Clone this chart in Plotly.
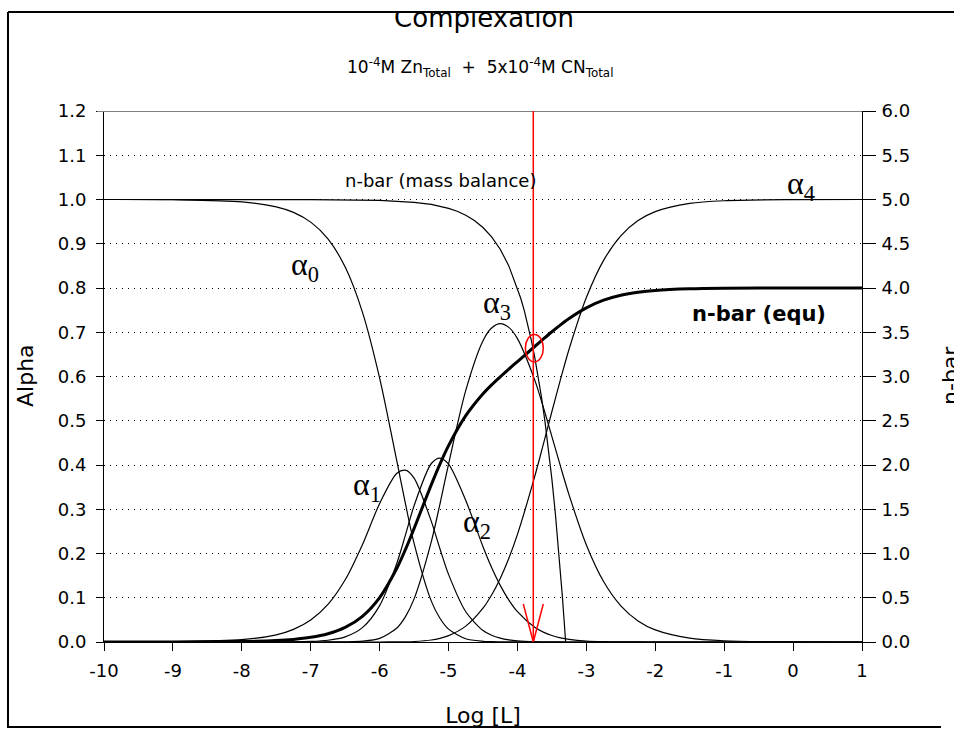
import plotly.graph_objects as go

# ---- data ----
log_L = [-10, -9, -8, -7.5, -7.25, -7, -6.75, -6.5, -6.25, -6, -5.75, -5.625, -5.5, -5.25, -5.125, -5,
         -4.75, -4.5, -4.375, -4.25, -4.125, -4, -3.75, -3.625, -3.5, -3.375, -3.25, -3, -2.75, -2.5,
         -2.25, -2, -1.5, -1, 0, 1]
alpha0 = [1.0, 0.9995, 0.9948, 0.9835, 0.9709, 0.9489, 0.9110, 0.8473, 0.7456, 0.5964, 0.4085, 0.3119,
          0.2231, 0.0924, 0.0536, 0.0291, 0.0073, 0.0016, 0.0007, 0.0003, 0.0001, 0.0001, 0.0, 0.0, 0.0,
          0.0, 0.0, 0.0, 0.0, 0.0, 0.0, 0.0, 0.0, 0.0, 0.0, 0.0]
alpha1 = [0.0001, 0.0005, 0.0052, 0.0163, 0.0286, 0.0498, 0.0850, 0.1406, 0.2200, 0.3130, 0.3813, 0.3883,
          0.3703, 0.2727, 0.2108, 0.1528, 0.0684, 0.0259, 0.0152, 0.0087, 0.0048, 0.0026, 0.0007, 0.0004,
          0.0002, 0.0001, 0.0, 0.0, 0.0, 0.0, 0.0, 0.0, 0.0, 0.0, 0.0, 0.0]
alpha2 = [0.0, 0.0, 0.0, 0.0001, 0.0004, 0.0013, 0.0040, 0.0117, 0.0325, 0.0823, 0.1783, 0.2420,
          0.3080, 0.4034, 0.4157, 0.4019, 0.3198, 0.2153, 0.1683, 0.1279, 0.0948, 0.0685, 0.0333, 0.0224,
          0.0147, 0.0094, 0.0059, 0.0022, 0.0008, 0.0003, 0.0001, 0.0, 0.0, 0.0, 0.0, 0.0]
alpha3 = [0.0, 0.0, 0.0, 0.0, 0.0, 0.0, 0.0001, 0.0004, 0.0018, 0.0082, 0.0317, 0.0574,
          0.0974, 0.2269, 0.3117, 0.4019, 0.5686, 0.6809, 0.7096, 0.7196, 0.7110, 0.6856, 0.5923, 0.5307,
          0.4643, 0.3968, 0.3319, 0.2194, 0.1367, 0.0818, 0.0477, 0.0274, 0.0088, 0.0028, 0.0003, 0.0]
alpha4 = [0.0, 0.0, 0.0, 0.0, 0.0, 0.0, 0.0, 0.0, 0.0, 0.0, 0.0002, 0.0005,
          0.0011, 0.0045, 0.0083, 0.0143, 0.0359, 0.0764, 0.1062, 0.1436, 0.1892, 0.2433, 0.3737, 0.4465,
          0.5209, 0.5937, 0.6622, 0.7784, 0.8625, 0.9179, 0.9523, 0.9726, 0.9912, 0.9972, 0.9997, 1.0]
nbar_equ = [0.0001, 0.0005, 0.0053, 0.0166, 0.0295, 0.0525, 0.0932, 0.1651, 0.2906, 0.5024, 0.8338, 1.046,
            1.283, 1.778, 2.010, 2.219, 2.557, 2.805, 2.906, 2.997, 3.084, 3.169, 3.339, 3.423,
            3.506, 3.584, 3.656, 3.776, 3.862, 3.918, 3.952, 3.973, 3.991, 3.997, 4.0, 4.0]

mb_log_L = [-10, -7, -6, -5.5, -5.25, -5, -4.875, -4.75, -4.625, -4.5, -4.375, -4.25, -4.125, -4, -3.95,
            -3.9, -3.85, -3.8, -3.75, -3.7, -3.65, -3.6, -3.55, -3.5, -3.45, -3.4, -3.35, -3.32, -3.301]
nbar_mass = [5.0, 4.999, 4.99, 4.968, 4.944, 4.9, 4.867, 4.822, 4.763, 4.684, 4.578, 4.438, 4.25, 4.0, 3.878,
             3.741, 3.587, 3.415, 3.222, 3.005, 2.761, 2.488, 2.182, 1.838, 1.452, 1.019, 0.533, 0.214, 0.0]

solution_log_L = -3.77
solution_alpha = 0.664

x_ticks = list(range(-10, 2))
title_text = "Complexation"
xlabel_text = "Log [L]"

FONT = "DejaVu Sans, Arial, sans-serif"
SERIF = "Liberation Serif, Times New Roman, serif"

# pixel helpers: plot area x 104-862; paper y spans pixel 728 (0) to 12 (1)
PAPER_BOTTOM = 728.0
PAPER_H = PAPER_BOTTOM - 12.0

def px(xpix):
    return (xpix - 104) / 758.0

def py(ypix):
    return (PAPER_BOTTOM - ypix) / PAPER_H

fig = go.Figure()
thin = dict(color="black", width=1.2, shape="spline", smoothing=0.8)
for ys in (alpha0, alpha1, alpha2, alpha3, alpha4):
    fig.add_trace(go.Scatter(x=log_L, y=ys, mode="lines", line=thin, xaxis="x", yaxis="y",
                             showlegend=False, hoverinfo="skip"))
fig.add_trace(go.Scatter(x=mb_log_L, y=nbar_mass, mode="lines",
                         line=dict(color="black", width=1.2), xaxis="x", yaxis="y2",
                         showlegend=False, hoverinfo="skip"))
fig.add_trace(go.Scatter(x=log_L, y=nbar_equ, mode="lines",
                         line=dict(color="black", width=3, shape="spline", smoothing=0.8),
                         xaxis="x", yaxis="y2", showlegend=False, hoverinfo="skip"))

# title and x label as clipped text (the frame cuts them like in the reference)
fig.add_trace(go.Scatter(x=[px(484)], y=[0.9], mode="text", text=[title_text],
                         textposition="middle center", cliponaxis=True,
                         textfont=dict(family=FONT, size=26, color="black"),
                         xaxis="x3", yaxis="y3", showlegend=False, hoverinfo="skip"))
fig.add_trace(go.Scatter(x=[px(483)], y=[0.27], mode="text", text=[xlabel_text],
                         textposition="middle center", cliponaxis=True,
                         textfont=dict(family=FONT, size=22, color="black"),
                         xaxis="x4", yaxis="y4", showlegend=False, hoverinfo="skip"))

shapes = [
    # outer frame
    dict(type="line", xref="paper", yref="paper", x0=px(8), x1=px(8), y0=py(12), y1=py(728),
         line=dict(color="black", width=2)),
    dict(type="line", xref="paper", yref="paper", x0=px(8), x1=px(960), y0=py(12), y1=py(12),
         line=dict(color="black", width=2)),
    dict(type="line", xref="paper", yref="paper", x0=px(8), x1=px(941), y0=py(727), y1=py(727),
         line=dict(color="black", width=2)),
    # top plot border
    dict(type="line", xref="paper", yref="y", x0=px(97), x1=1, y0=1.2, y1=1.2,
         line=dict(color="#808080", width=2)),
    # red arrow
    dict(type="line", xref="x", yref="y", x0=solution_log_L, x1=solution_log_L, y0=1.2, y1=0,
         line=dict(color="red", width=1.5)),
    dict(type="line", xref="x", yref="y", x0=solution_log_L - 0.145, x1=solution_log_L, y0=0.086, y1=0,
         line=dict(color="red", width=1.5)),
    dict(type="line", xref="x", yref="y", x0=solution_log_L + 0.145, x1=solution_log_L, y0=0.086, y1=0,
         line=dict(color="red", width=1.5)),
    # red circle at solution
    dict(type="circle", xref="x", yref="y", x0=solution_log_L - 0.115, x1=solution_log_L + 0.145,
         y0=solution_alpha - 0.031, y1=solution_alpha + 0.031, line=dict(color="red", width=1.5)),
]

annotations = [
    dict(text="10<sup>-4</sup>M Zn<sub>Total</sub>  +  5x10<sup>-4</sup>M CN<sub>Total</sub>",
         xref="paper", yref="paper", x=px(480), y=py(67), showarrow=False,
         font=dict(family=FONT, size=17, color="black"), xanchor="center", yanchor="middle"),
    dict(text="Alpha", xref="paper", yref="paper", x=px(25), y=py(376), textangle=-90, showarrow=False,
         font=dict(family=FONT, size=22, color="black"), xanchor="center", yanchor="middle"),
    dict(text="n-bar", xref="paper", yref="paper", x=px(950), y=py(376), textangle=-90, showarrow=False,
         font=dict(family=FONT, size=22, color="black"), xanchor="center", yanchor="middle"),
    dict(text="n-bar (mass balance)", x=-5.12, y=1.042, xref="x", yref="y", showarrow=False,
         font=dict(family=FONT, size=18, color="black")),
    dict(text="<b>n-bar (equ)</b>", x=-0.49, y=0.741, xref="x", yref="y", showarrow=False,
         font=dict(family=FONT, size=21, color="black")),
]
for lbl, xv, yv in [("0", -7.08, 0.848), ("1", -6.19, 0.352), ("2", -4.59, 0.268),
                    ("3", -4.30, 0.762), ("4", 0.11, 1.031)]:
    annotations.append(dict(text="α<sub>" + lbl + "</sub>", x=xv, y=yv, xref="x", yref="y",
                            showarrow=False, font=dict(family=SERIF, size=32, color="black")))

tickfont = dict(family=FONT, size=18, color="black")
fig.update_layout(
    width=954, height=730,
    margin=dict(l=104, r=92, t=12, b=2, autoexpand=False),
    paper_bgcolor="white", plot_bgcolor="rgba(0,0,0,0)",
    showlegend=False,
    xaxis=dict(domain=[0, 1], anchor="y", range=[-10, 1], tickvals=x_ticks,
               ticktext=[str(v) for v in x_ticks],
               showline=True, linecolor="black", linewidth=1, ticks="outside", ticklen=8,
               tickcolor="black", tickfont=tickfont, ticklabelstandoff=4,
               showgrid=False, zeroline=False),
    yaxis=dict(domain=[py(642), py(111)], anchor="x", range=[0, 1.2], dtick=0.1, tick0=0,
               tickformat=".1f",
               showline=True, linecolor="black", linewidth=1, ticks="outside", ticklen=7,
               tickcolor="black", tickfont=tickfont, ticklabelstandoff=6,
               showgrid=True, gridcolor="black", griddash="1px,5px", gridwidth=1, zeroline=False),
    yaxis2=dict(range=[0, 6], dtick=0.5, tick0=0, tickformat=".1f", overlaying="y", side="right",
                anchor="x", showline=True, linecolor="black", linewidth=1, ticks="outside",
                ticklen=13, tickcolor="black", tickfont=tickfont, ticklabelstandoff=2,
                showgrid=False, zeroline=False),
    xaxis3=dict(domain=[0, 1], anchor="y3", range=[0, 1], visible=False, fixedrange=True),
    yaxis3=dict(domain=[py(100), 1], anchor="x3", range=[0, 1], visible=False, fixedrange=True),
    xaxis4=dict(domain=[0, 1], anchor="y4", range=[0, 1], visible=False, fixedrange=True),
    yaxis4=dict(domain=[0, py(690)], anchor="x4", range=[0, 1], visible=False, fixedrange=True),
    shapes=shapes,
    annotations=annotations,
)

fig.write_html("out.html")
